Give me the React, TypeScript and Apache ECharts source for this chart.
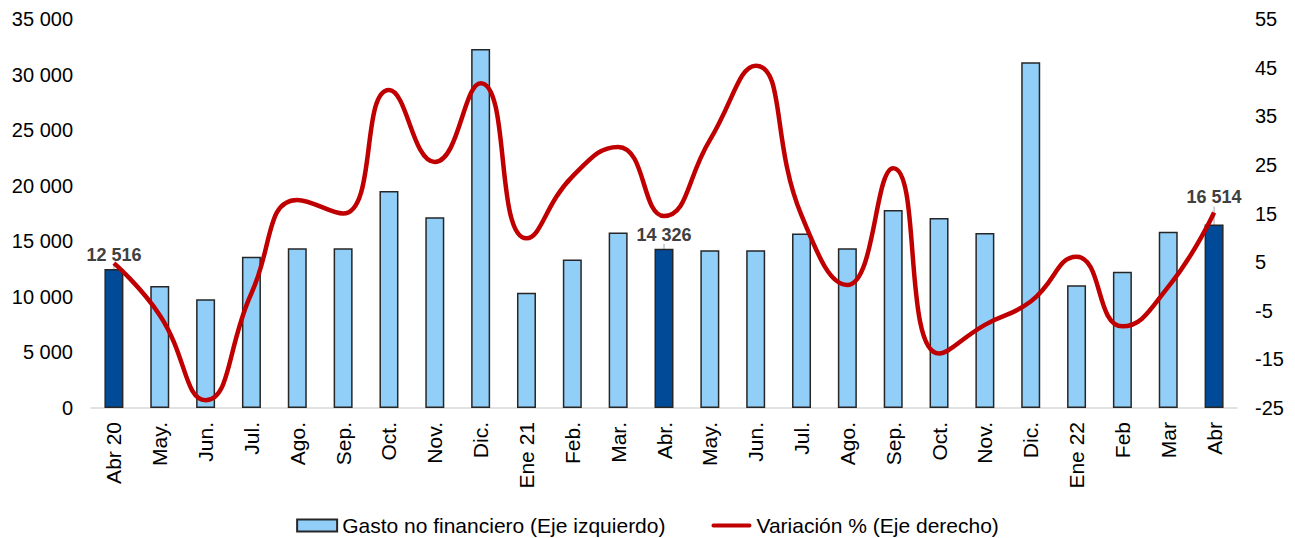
import React, { useEffect, useRef } from "react";
import * as echarts from "echarts";

const categories = ["Abr 20", "May.", "Jun.", "Jul.", "Ago.", "Sep.", "Oct.", "Nov.", "Dic.", "Ene 21", "Feb.", "Mar.", "Abr.", "May.", "Jun.", "Jul.", "Ago.", "Sep.", "Oct.", "Nov.", "Dic.", "Ene 22", "Feb", "Mar", "Abr"];
const gasto = [12516, 10980, 9780, 13610, 14370, 14370, 19520, 17160, 32300, 10380, 13350, 15780, 14326, 14190, 14190, 15690, 14370, 17820, 17100, 15750, 31100, 11040, 12270, 15860, 16514];
const variacion = [4.8, -5.9, -23.4, -1.4, 17.8, 15.0, 40.4, 25.6, 41.8, 9.9, 22.6, 28.7, 14.5, 30.1, 45.4, 14.6, 0.3, 24.3, -13.8, -7.9, -3.1, 6.1, -8.2, -0.1, 15.2];
const highlighted = [0, 12, 24];
const leftTicks = { min: 0, max: 35000, interval: 5000 };
const rightTicks = { min: -25, max: 55, interval: 10 };
const seriesNames = ["Gasto no financiero (Eje izquierdo)", "Variación % (Eje derecho)"];

const FONT = "'Liberation Sans', Arial, sans-serif";
const LIGHT = "#92CFF8";
const DARK = "#004A97";
const RED = "#C00000";

const fmtThousands = (v: number) => {
  const n = Math.round(v);
  if (Math.abs(n) < 1000) return String(n);
  const s = String(n);
  return s.replace(/\B(?=(\d{3})+(?!\d))/g, " ");
};

export default function App() {
  const ref = useRef<HTMLDivElement>(null);
  useEffect(() => {
    if (!ref.current) return;
    const chart = echarts.init(ref.current, undefined, { renderer: "svg" });
    const barData = gasto.map((v, i) =>
      highlighted.includes(i)
        ? { value: v, itemStyle: { color: DARK }, label: { show: true } }
        : { value: v }
    );
    chart.setOption({
      animation: false,
      textStyle: { fontFamily: FONT },
      grid: { left: 91, right: 58, top: 19, bottom: 130, containLabel: false },
      legend: {
        left: "center",
        top: 510,
        itemWidth: 40,
        itemHeight: 12,
        itemGap: 46,
        symbolKeepAspect: true,
        textStyle: { fontFamily: FONT, fontSize: 21, color: "#000" },
        data: [
          { name: seriesNames[0], icon: "rect" },
          { name: seriesNames[1], icon: "path://M2 0 H40 A2 2 0 0 1 40 4 H2 A2 2 0 0 1 2 0 Z" },
        ],
      },
      xAxis: {
        type: "category",
        data: categories,
        axisTick: { show: false },
        axisLine: { show: true, lineStyle: { color: "#D9D9D9", width: 1.5 } },
        axisLabel: {
          rotate: 90,
          interval: 0,
          margin: 14,
          fontSize: 21,
          color: "#000",
          fontFamily: FONT,
        },
      },
      yAxis: [
        {
          type: "value",
          min: leftTicks.min,
          max: leftTicks.max,
          interval: leftTicks.interval,
          splitLine: { show: false },
          axisLine: { show: false },
          axisTick: { show: false },
          axisLabel: {
            margin: 18,
            fontSize: 20,
            color: "#000",
            fontFamily: FONT,
            formatter: (v: number) => fmtThousands(v),
          },
        },
        {
          type: "value",
          min: rightTicks.min,
          max: rightTicks.max,
          interval: rightTicks.interval,
          position: "right",
          splitLine: { show: false },
          axisLine: { show: false },
          axisTick: { show: false },
          axisLabel: {
            margin: 18,
            fontSize: 20,
            color: "#000",
            fontFamily: FONT,
          },
        },
      ],
      series: [
        {
          name: seriesNames[0],
          type: "bar",
          yAxisIndex: 0,
          barWidth: 19,
          data: barData,
          itemStyle: { color: LIGHT, borderColor: "#262626", borderWidth: 1.5 },
          label: {
            show: false,
            position: "top",
            distance: 5,
            fontFamily: FONT,
            fontSize: 18,
            fontWeight: "bold",
            color: "#404040",
            formatter: (p: any) => fmtThousands(p.value),
          },
          labelLine: { show: true, lineStyle: { color: "#A6A6A6", width: 1 } },
          labelLayout: (p: any) => (p.dataIndex === 24 ? { dy: -13 } : {}),
          z: 2,
        },
        {
          name: seriesNames[1],
          type: "line",
          yAxisIndex: 1,
          data: variacion,
          smooth: 0.5,
          symbol: "none",
          showSymbol: false,
          lineStyle: { color: RED, width: 4.5 },
          itemStyle: { color: RED },
          z: 3,
        },
      ],
    });
    return () => chart.dispose();
  }, []);
  return <div ref={ref} style={{ width: 1295, height: 538, position: "absolute", left: 0, top: 0 }} />;
}
